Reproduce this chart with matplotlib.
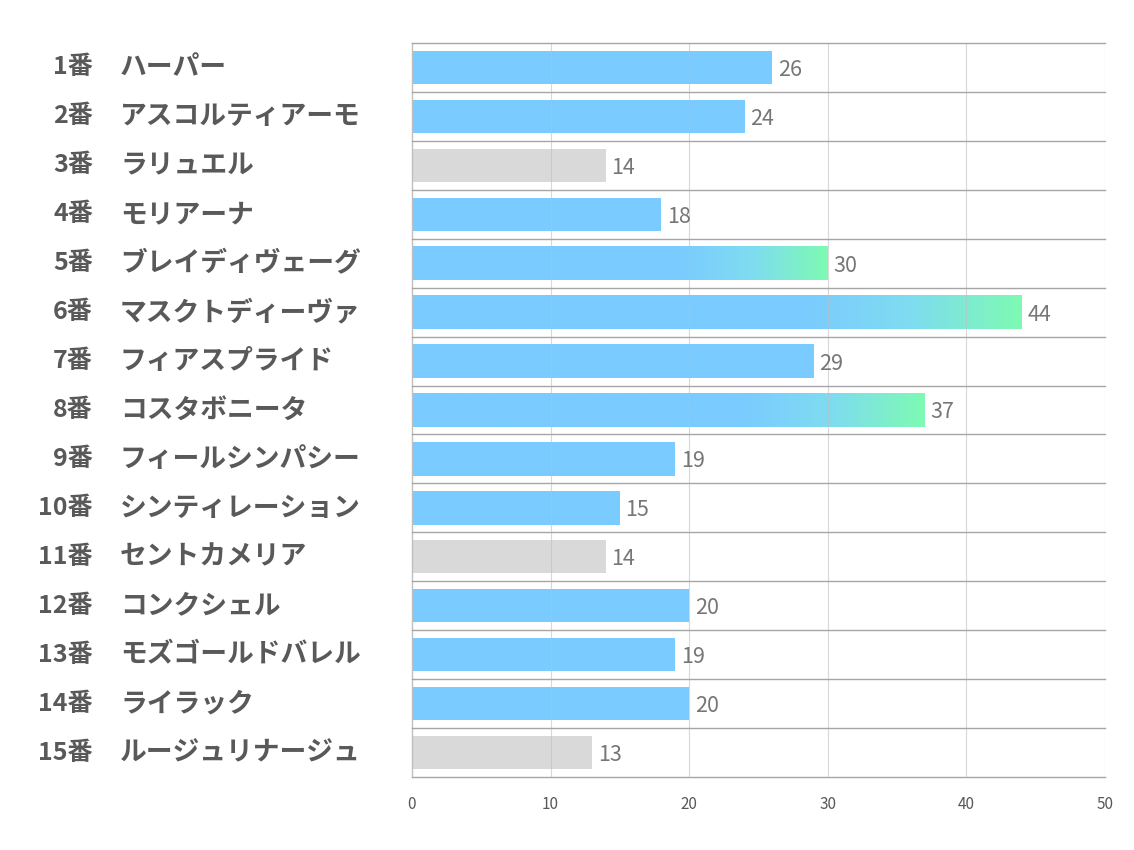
import matplotlib.pyplot as plt
import numpy as np
from matplotlib.colors import LinearSegmentedColormap

plt.rcParams['font.family'] = ['Noto Sans CJK JP', 'DejaVu Sans']

# データ
numbers = ["1番", "2番", "3番", "4番", "5番", "6番", "7番", "8番", "9番", "10番",
           "11番", "12番", "13番", "14番", "15番"]
names = ["ハーパー", "アスコルティアーモ", "ラリュエル", "モリアーナ", "ブレイディヴェーグ",
         "マスクトディーヴァ", "フィアスプライド", "コスタボニータ", "フィールシンパシー",
         "シンティレーション", "セントカメリア", "コンクシェル", "モズゴールドバレル",
         "ライラック", "ルージュリナージュ"]
values = [26, 24, 14, 18, 30, 44, 29, 37, 19, 15, 14, 20, 19, 20, 13]
kinds = ["blue", "blue", "gray", "blue", "grad", "grad", "blue", "grad", "blue", "blue",
         "gray", "blue", "blue", "blue", "gray"]

BLUE = "#7ACBFF"
GRAY = "#D9D9D9"
GREEN = "#7DFAB3"
cmap = LinearSegmentedColormap.from_list("bg", [BLUE, "#7FDCF0", GREEN], N=256)

fig = plt.figure(figsize=(11.34, 8.5), dpi=100)
ax = fig.add_axes([412 / 1134, 1 - 777 / 850, (1105 - 412) / 1134, (777 - 43) / 850])

n = len(values)
ypos = np.arange(n)
h = 0.68

for y, v, k in zip(ypos, values, kinds):
    if k == "gray":
        ax.barh(y, v, height=h, color=GRAY, zorder=2)
    elif k == "blue":
        ax.barh(y, v, height=h, color=BLUE, zorder=2)
    else:
        # グラデーション（後半が緑へ）
        xs = np.linspace(0, 1, 300)
        t = np.clip((xs - 0.64) / 0.36, 0, 1)
        grad = np.vstack([t, t])
        ax.imshow(grad, extent=[0, v, y + h / 2, y - h / 2], cmap=cmap,
                  aspect="auto", vmin=0, vmax=1, zorder=2, interpolation="bilinear")
    ax.text(v + 0.4, y + 0.05, str(v), va="center", ha="left", fontsize=15.5,
            color="#767676", zorder=4)

ax.set_xlim(0, 50)
ax.set_ylim(n - 0.5, -0.5)
ax.set_xticks([0, 10, 20, 30, 40, 50])
ax.tick_params(axis="x", length=0, labelsize=11, labelcolor="#595959", pad=14)
ax.set_yticks([])

# 縦グリッド
for xv in [10, 20, 30, 40, 50]:
    ax.axvline(xv, color="#BFBFBF", lw=0.8, alpha=0.6, zorder=3)
# 行の区切り線
for yb in np.arange(-0.5, n, 1.0):
    ax.axhline(yb, color="#A6A6A6", lw=1.0, zorder=3, clip_on=False)

for s in ["top", "right", "bottom"]:
    ax.spines[s].set_visible(False)
ax.spines["left"].set_color("#BFBFBF")
ax.spines["left"].set_linewidth(1.0)

# 左のラベル（番号と馬名）
for y, num, name in zip(ypos, numbers, names):
    ax.annotate(num, xy=(0, y), xycoords=("axes fraction", "data"),
                xytext=(-319, 0), textcoords="offset pixels",
                ha="right", va="center", fontsize=18, fontweight="bold",
                color="#595959")
    ax.annotate(name, xy=(0, y), xycoords=("axes fraction", "data"),
                xytext=(-292, 0), textcoords="offset pixels",
                ha="left", va="center", fontsize=19.3, fontweight="bold",
                color="#595959")

fig.savefig("out.png", dpi=100)
